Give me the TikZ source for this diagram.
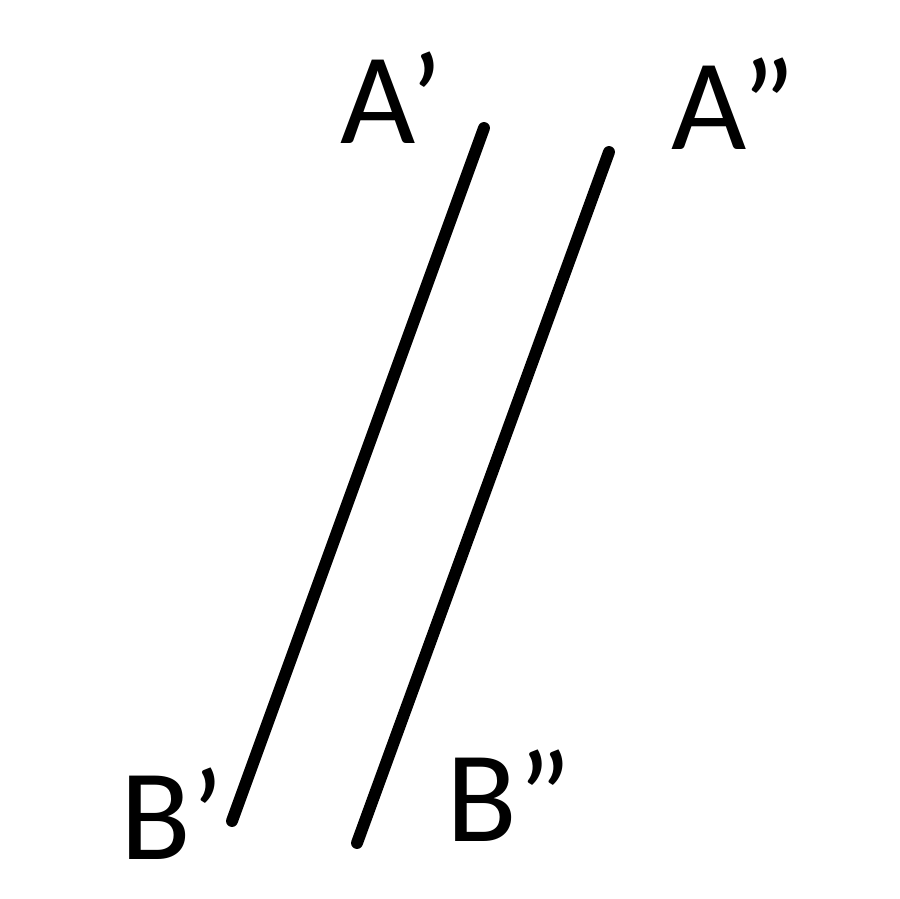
\documentclass[tikz,border=0pt]{standalone}
\usepackage{fontspec}
\setmainfont{Carlito}
\usepackage{tikz}

\tikzset{
  seg/.style={line width=6.8pt,black,line cap=round},
  lbl/.style={inner sep=0pt,anchor=base west,font=\fontsize{74}{80}\selectfont}
}

\begin{document}
\begin{tikzpicture}[x=0.02cm,y=-0.02cm]
  \useasboundingbox (0,0) rectangle (900,899);
  \coordinate (a1) at (484,128);
  \coordinate (b1) at (232,821);
  \coordinate (a2) at (609,152);
  \coordinate (b2) at (357,843);
  \draw[seg] (a1)--(b1);
  \draw[seg] (a2)--(b2);
  \node[lbl] (la1) at (340,143) {A’};
  \node[lbl] (la2) at (671,149) {A”};
  \node[lbl] (lb1) at (120,859) {B’};
  \node[lbl] (lb2) at (446,841) {B”};
\end{tikzpicture}
\end{document}
